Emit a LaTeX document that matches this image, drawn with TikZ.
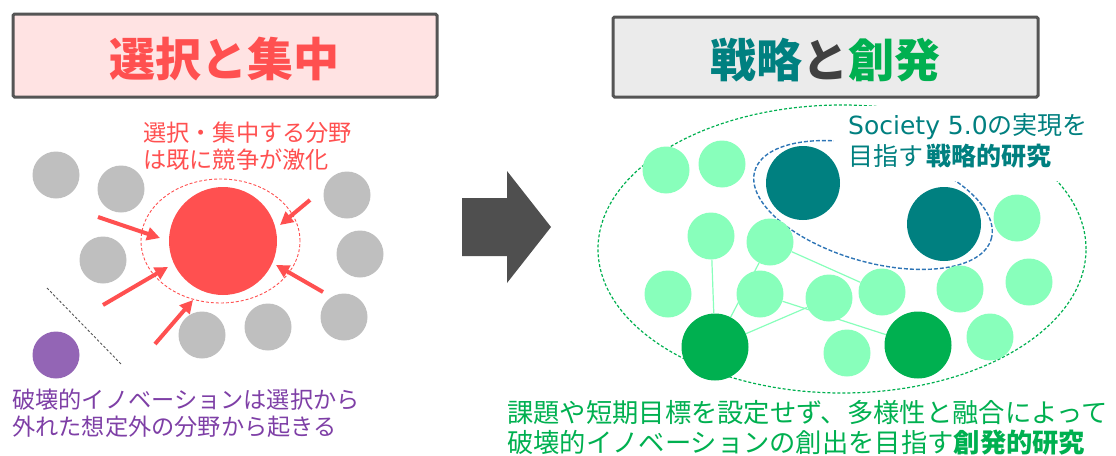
\documentclass[tikz,border=0pt]{standalone}
\usepackage{fontspec}
\setmainfont{Noto Sans CJK JP}
\newfontfamily\latinfont{DejaVu Sans}
\usetikzlibrary{arrows.meta}
\definecolor{redc}{HTML}{FF5050}
\definecolor{pinkc}{HTML}{FFE3E3}
\definecolor{boxgray}{HTML}{EBEBEB}
\definecolor{framec}{HTML}{555555}
\definecolor{grayc}{HTML}{BFBFBF}
\definecolor{purplec}{HTML}{9365B5}
\definecolor{purpletxt}{HTML}{7E3FA6}
\definecolor{arrowc}{HTML}{4F4F4F}
\definecolor{tealc}{HTML}{008080}
\definecolor{ltgreen}{HTML}{88FFBB}
\definecolor{dkgreen}{HTML}{00B050}
\definecolor{bluec}{HTML}{2E75B6}
\definecolor{andgray}{HTML}{404040}
\begin{document}
\begin{tikzpicture}[x=1pt,y=-1pt,
  titlebox/.style={draw=framec,line width=3pt,rounded corners=1.5pt,inner sep=0pt},
  titletext/.style={font=\fontsize{46}{50}\selectfont\bfseries,inner sep=0pt},
  txt/.style={align=left,inner sep=0pt,anchor=west},
  disc/.style={circle,inner sep=0pt,minimum size=#1},
  graydisc/.style={disc=47pt,fill=grayc},
  lgdisc/.style={disc=47pt,fill=ltgreen},
  dgdisc/.style={disc=67pt,fill=dkgreen},
  tldisc/.style={disc=74pt,fill=tealc},
  redarrow/.style={draw=redc,line width=4pt,-{Triangle[length=13pt,width=13pt]}},
  link/.style={draw=ltgreen,line width=1.2pt}
]
\useasboundingbox (0,0) rectangle (1116,455);

% ---------- left title ----------
\node[titlebox,fill=pinkc,minimum width=424pt,minimum height=83pt] (box1) at (225,55.5) {};
\node[titletext,text=redc] (title1) at (224,59) {選択と集中};

% ---------- right title ----------
\node[titlebox,fill=boxgray,minimum width=425pt,minimum height=80pt] (box2) at (825.5,57) {};
\node[titletext] (title2) at (825,60) {\textcolor{tealc}{戦略}\textcolor{andgray}{と}\textcolor{dkgreen}{創発}};

% ---------- left cluster ----------
\node[graydisc] (g1) at (56,175) {};
\node[graydisc] (g2) at (121,189) {};
\node[graydisc] (g3) at (103,260) {};
\node[graydisc] (g4) at (347,195) {};
\node[graydisc] (g5) at (360,254) {};
\node[graydisc] (g6) at (202,335) {};
\node[graydisc] (g7) at (268,327) {};
\node[graydisc] (g8) at (344,317) {};
\node[disc=47pt,fill=purplec] (pp) at (56,355) {};
\draw[redc,line width=0.9pt,dash pattern=on 3pt off 2pt] (220.5,241) ellipse [x radius=79.5pt,y radius=62pt];
\node[disc=108pt,fill=redc] (red) at (223,241) {};

\coordinate (a1s) at (98,217);  \coordinate (a1e) at (160,238);
\coordinate (a2s) at (310,200); \coordinate (a2e) at (280,225);
\coordinate (a3s) at (103,305); \coordinate (a3e) at (168,267);
\coordinate (a4s) at (323,292); \coordinate (a4e) at (276,265);
\coordinate (a5s) at (155,344); \coordinate (a5e) at (193,300);
\draw[redarrow] (a1s) -- (a1e);
\draw[redarrow] (a2s) -- (a2e);
\draw[redarrow] (a3s) -- (a3e);
\draw[redarrow] (a4s) -- (a4e);
\draw[redarrow] (a5s) -- (a5e);

\coordinate (ds) at (47,288); \coordinate (de) at (121,364);
\draw[framec,line width=0.9pt,dash pattern=on 2.5pt off 2pt] (ds) -- (de);

\node[txt,text=redc,font=\fontsize{23.2}{27}\selectfont] (lbl1) at (143,146.5) {選択・集中する分野\\は既に競争が激化};
\node[txt,text=purpletxt,font=\fontsize{23.2}{27}\selectfont] (lbl2) at (12,413.5) {破壊的イノベーションは選択から\\外れた想定外の分野から起きる};

% ---------- big arrow ----------
\fill[arrowc] (462,198) -- (507,198) -- (507,171) -- (551,227) -- (507,283) -- (507,256) -- (462,256) -- cycle;

% ---------- right cluster ----------
\draw[dkgreen,line width=1.2pt,dash pattern=on 3pt off 2pt] (842,249) ellipse [x radius=244pt,y radius=144pt];
\draw[bluec,line width=1.4pt,dash pattern=on 4pt off 2pt,rotate around={-16:(873,205)}] (873,205) ellipse [x radius=123pt,y radius=57pt];
\fill[white] (834,106) rectangle (1105,181);

\node[lgdisc] (c1) at (666,170) {};
\node[lgdisc] (c2) at (722,164) {};
\node[lgdisc] (c3) at (711,236) {};
\node[lgdisc] (c4) at (770,242) {};
\node[lgdisc] (c5) at (1017,218) {};
\node[lgdisc] (c6) at (1029,282) {};
\node[lgdisc] (c7) at (668,294) {};
\node[lgdisc] (c8) at (760,294) {};
\node[lgdisc] (c9) at (829,298) {};
\node[lgdisc] (c10) at (882,292) {};
\node[lgdisc] (c11) at (960,289) {};
\node[lgdisc] (c12) at (990,337) {};
\node[lgdisc] (c13) at (847,353) {};
\node[dgdisc] (d1) at (715,347) {};
\node[dgdisc] (d2) at (918,345) {};
\node[tldisc] (t1) at (803,183) {};
\node[tldisc] (t2) at (944,224) {};

\draw[link] (c3) -- (d1);
\draw[link] (c4) -- (d1);
\draw[link] (c4) -- (c10);
\draw[link] (d1) -- (c9);
\draw[link] (c8) -- (d2);

\node[txt,text=tealc,font=\fontsize{25}{31.5}\selectfont] (lbl3) at (848,140.75) {{\latinfont Society 5.0}の実現を\\目指す\hspace{3pt}\textbf{戦略的研究}};
\node[txt,text=dkgreen,font=\fontsize{26.3}{30}\selectfont] (lbl4) at (507,427.5) {課題や短期目標を設定せず、多様性と融合によって\\破壊的イノベーションの創出を目指す\textbf{創発的研究}};
\end{tikzpicture}
\end{document}
